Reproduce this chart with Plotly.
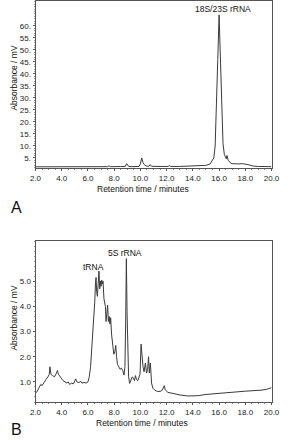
import plotly.graph_objects as go

# Panel A chromatogram (retention time in minutes, absorbance in mV)
a_time = [2.0, 3.0, 4.0, 5.0, 6.0, 7.0, 7.5, 7.6, 7.7, 8.5, 8.85, 8.95, 9.1, 9.3,
          9.9, 10.0, 10.1, 10.2, 10.3, 10.45, 10.65, 10.75, 10.85, 11.5, 12.1, 12.2,
          12.3, 13.0, 13.7, 13.8, 13.9, 14.5, 15.0, 15.3, 15.5, 15.6, 15.7, 15.8,
          15.9, 16.0, 16.1, 16.2, 16.3, 16.4, 16.5, 16.55, 16.6, 16.7, 16.85, 17.0,
          17.5, 17.8, 18.2, 18.6, 19.0, 20.0]
a_abs = [1.3, 1.3, 1.3, 1.3, 1.35, 1.35, 1.35, 1.7, 1.35, 1.4, 1.45, 2.6, 1.5, 1.35,
         1.45, 2.5, 5.0, 3.0, 2.2, 1.6, 1.5, 2.2, 1.5, 1.45, 1.45, 1.8,
         1.45, 1.45, 1.55, 1.75, 1.55, 1.7, 1.9, 2.4, 4.0, 5.0, 10.0, 24.0,
         46.0, 64.6, 46.0, 24.0, 11.0, 6.5, 5.0, 4.6, 6.0, 4.0, 3.0, 2.6,
         2.5, 2.6, 2.2, 1.6, 1.45, 1.35]

# Panel B chromatogram
b_time = [2.0, 2.1, 2.25, 2.4, 2.5, 2.6, 2.8, 2.95, 3.05, 3.1, 3.18, 3.3, 3.45, 3.6,
          3.67, 3.75, 3.9, 4.0, 4.1, 4.25, 4.4, 4.5, 4.6, 4.75, 4.9, 5.0, 5.07, 5.15,
          5.3, 5.45, 5.55, 5.7, 5.85, 6.0, 6.1, 6.2, 6.3, 6.4, 6.47, 6.52, 6.58, 6.62,
          6.66, 6.72, 6.78, 6.84, 6.9, 6.95, 7.0, 7.05, 7.1, 7.15, 7.22, 7.28, 7.33,
          7.38, 7.45, 7.5, 7.56, 7.62, 7.68, 7.73, 7.8, 7.88, 7.97, 8.05, 8.12, 8.18,
          8.25, 8.35, 8.45, 8.55, 8.65, 8.75, 8.82, 8.88, 8.93, 8.98, 9.03, 9.1, 9.18,
          9.3, 9.38, 9.45, 9.55, 9.62, 9.7, 9.8, 9.9, 9.97, 10.05, 10.12, 10.2, 10.28,
          10.38, 10.47, 10.55, 10.62, 10.68, 10.76, 10.85, 10.95, 11.1, 11.3, 11.5,
          11.65, 11.75, 11.82, 11.9, 12.1, 12.5, 13.0, 13.6, 14.4, 15.0, 15.6, 16.3,
          17.0, 18.0, 19.2, 19.6, 20.0]
b_abs = [0.55, 0.6, 0.75, 0.9, 0.85, 0.95, 1.1, 1.2, 1.3, 1.6, 1.3, 1.25, 1.2, 1.35,
         1.45, 1.3, 1.2, 1.15, 1.05, 1.0, 0.95, 1.0, 0.9, 0.95, 0.92, 1.05, 1.12, 1.0,
         0.97, 1.02, 0.95, 0.98, 0.95, 1.0, 1.2, 1.6, 2.3, 3.0, 3.5, 4.2, 5.0, 5.15,
         4.6, 4.4, 4.9, 5.4, 4.7, 5.0, 4.8, 5.05, 4.9, 5.0, 4.3, 4.1, 4.0,
         3.4, 3.9, 4.05, 3.4, 3.6, 3.3, 3.55, 2.9, 2.5, 2.1, 2.2, 2.45, 2.0,
         1.7, 1.6, 1.5, 1.55, 1.45, 1.27, 1.6, 3.5, 5.9, 3.8, 1.8, 1.2, 0.94,
         1.07, 1.2, 1.15, 1.05, 1.25, 1.1, 1.05, 1.2, 1.3, 2.5, 1.9, 1.6, 1.4,
         1.75, 1.35, 1.5, 2.0, 1.35, 1.75, 0.95, 0.75, 0.67, 0.62, 0.62,
         0.66, 0.8, 0.85, 0.68, 0.58, 0.54, 0.48, 0.44, 0.45, 0.5, 0.53, 0.57,
         0.6, 0.63, 0.67, 0.7, 0.77]

x_ticks = [2, 4, 6, 8, 10, 12, 14, 16, 18, 20]
x_ticktext = ["2.0", "4.0", "6.0", "8.0", "10.0", "12.0", "14.0", "16.0", "18.0", "20.0"]
a_yticks = [5, 10, 15, 20, 25, 30, 35, 40, 45, 50, 55, 60]
a_yticktext = ["5.", "10.", "15.", "20.", "25.", "30.", "35.", "40.", "45.", "50.", "55.", "60."]
b_yticks = [1, 2, 3, 4, 5]
b_yticktext = ["1.0", "2.0", "3.0", "4.0", "5.0"]

FONT = "Liberation Sans, Arial, sans-serif"
LINE = "#3a3a3a"
AX = "#555555"

fig = go.Figure()
fig.add_trace(go.Scatter(x=a_time, y=a_abs, mode="lines", line=dict(color=LINE, width=1),
                         xaxis="x", yaxis="y", showlegend=False, hoverinfo="skip"))
fig.add_trace(go.Scatter(x=b_time, y=b_abs, mode="lines", line=dict(color=LINE, width=1),
                         xaxis="x2", yaxis="y2", showlegend=False, hoverinfo="skip"))

W, H = 290, 440
xdom = [31 / W, 279 / W]
a_dom = [1 - 168 / H, 1 - 1 / H]
b_dom = [1 - 402 / H, 1 - 241 / H]

def xaxis(anchor):
    return dict(domain=xdom, anchor=anchor, range=[2, 20], tickvals=x_ticks, ticktext=x_ticktext,
                showline=True, linecolor=AX, linewidth=1, mirror=True, showgrid=False,
                zeroline=False, ticks="outside", ticklen=2, tickcolor=AX,
                tickfont=dict(family=FONT, size=8, color="#222"),
                minor=dict(dtick=0.5, ticks="outside", ticklen=1, tickcolor="#888"))

def yaxis(anchor, dom, rng, tv, tt, mdt):
    return dict(domain=dom, anchor=anchor, range=rng, tickvals=tv, ticktext=tt,
                showline=True, linecolor=AX, linewidth=1, mirror=True, showgrid=False,
                zeroline=False, ticks="outside", ticklen=2, tickcolor=AX,
                tickfont=dict(family=FONT, size=8, color="#222"),
                minor=dict(dtick=mdt, ticks="outside", ticklen=1, tickcolor="#999"))

fig.update_layout(
    width=W, height=H, margin=dict(l=0, r=0, t=0, b=0),
    paper_bgcolor="white", plot_bgcolor="white",
    xaxis=xaxis("y"), xaxis2=xaxis("y2"),
    yaxis=yaxis("x", a_dom, [0.8, 70.4], a_yticks, a_yticktext, 1),
    yaxis2=yaxis("x2", b_dom, [0.2, 6.6], b_yticks, b_yticktext, 0.2),
)

def ann(text, x, y, size=8.5, angle=0):
    fig.add_annotation(text=text, x=x / W, y=1 - y / H, xref="paper", yref="paper",
                       showarrow=False, textangle=angle, xanchor="center", yanchor="middle",
                       font=dict(family=FONT, size=size, color="#111"))

ann("18S/23S rRNA", 228, 9)
ann("tRNA", 92, 267)
ann("5S rRNA", 125, 253)
ann("Retention time / minutes", 144, 189, size=8.5)
ann("Retention time / minutes", 143, 423, size=8.5)
ann("Absorbance / mV", 8, 78, size=8.5, angle=-90)
ann("Absorbance / mV", 8, 318, size=8.5, angle=-90)
ann("A", 11, 207, size=16)
ann("B", 11, 429, size=16)

fig.write_html("out.html")
